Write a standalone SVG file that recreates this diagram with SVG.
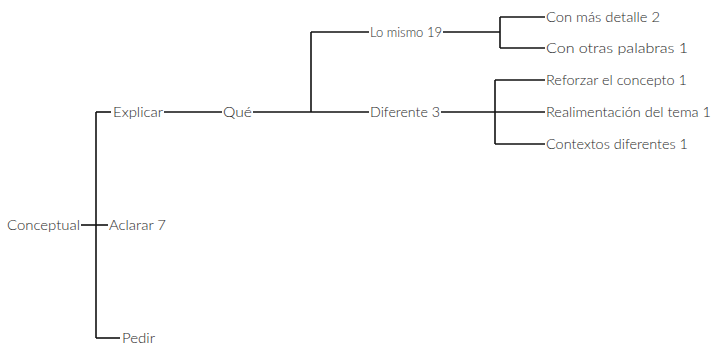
<svg xmlns="http://www.w3.org/2000/svg" width="713" height="347" viewBox="0 0 713 347">
<style>
text{font-family:"Lato","Liberation Sans",sans-serif;font-size:14px;font-weight:300;fill:#2a2a2a;}
.c line{stroke:#111;stroke-width:1.6;fill:none;}
</style>
<rect width="713" height="347" fill="#fff"/>
<g class="c" id="connectors">
<line x1="81" y1="225" x2="108" y2="225"/>
<line x1="96" y1="112" x2="96" y2="338"/>
<line x1="96" y1="112" x2="111" y2="112"/>
<line x1="96" y1="338" x2="120" y2="338"/>
<line x1="164" y1="112" x2="222" y2="112"/>
<line x1="253" y1="112" x2="369" y2="112"/>
<line x1="311" y1="32" x2="311" y2="112"/>
<line x1="311" y1="32" x2="369" y2="32"/>
<line x1="443" y1="32" x2="500" y2="32"/>
<line x1="500" y1="17" x2="500" y2="48"/>
<line x1="500" y1="17" x2="545" y2="17"/>
<line x1="500" y1="48" x2="545" y2="48"/>
<line x1="441" y1="112" x2="545" y2="112"/>
<line x1="495" y1="80" x2="495" y2="144"/>
<line x1="495" y1="80" x2="545" y2="80"/>
<line x1="495" y1="144" x2="545" y2="144"/>
</g>
<g id="n-conceptual"><text x="7" y="230" textLength="73" lengthAdjust="spacingAndGlyphs">Conceptual</text></g>
<g id="n-explicar"><text x="113" y="117" textLength="50" lengthAdjust="spacingAndGlyphs">Explicar</text></g>
<g id="n-aclarar"><text x="109" y="230" textLength="57" lengthAdjust="spacingAndGlyphs">Aclarar 7</text></g>
<g id="n-pedir"><text x="122" y="343" textLength="33" lengthAdjust="spacingAndGlyphs">Pedir</text></g>
<g id="n-que"><text x="223" y="117" textLength="29" lengthAdjust="spacingAndGlyphs">Qué</text></g>
<g id="n-lomismo"><text x="370" y="37" textLength="72" lengthAdjust="spacingAndGlyphs">Lo mismo 19</text></g>
<g id="n-diferente"><text x="370" y="117" textLength="70" lengthAdjust="spacingAndGlyphs">Diferente 3</text></g>
<g id="n-detalle"><text x="546" y="22" textLength="114" lengthAdjust="spacingAndGlyphs">Con más detalle 2</text></g>
<g id="n-palabras"><text x="546" y="53" textLength="142" lengthAdjust="spacingAndGlyphs">Con otras palabras 1</text></g>
<g id="n-reforzar"><text x="546" y="85" textLength="141" lengthAdjust="spacingAndGlyphs">Reforzar el concepto 1</text></g>
<g id="n-realimentacion"><text x="546" y="117" textLength="165" lengthAdjust="spacingAndGlyphs">Realimentación del tema 1</text></g>
<g id="n-contextos"><text x="546" y="149" textLength="142" lengthAdjust="spacingAndGlyphs">Contextos diferentes 1</text></g>
</svg>
